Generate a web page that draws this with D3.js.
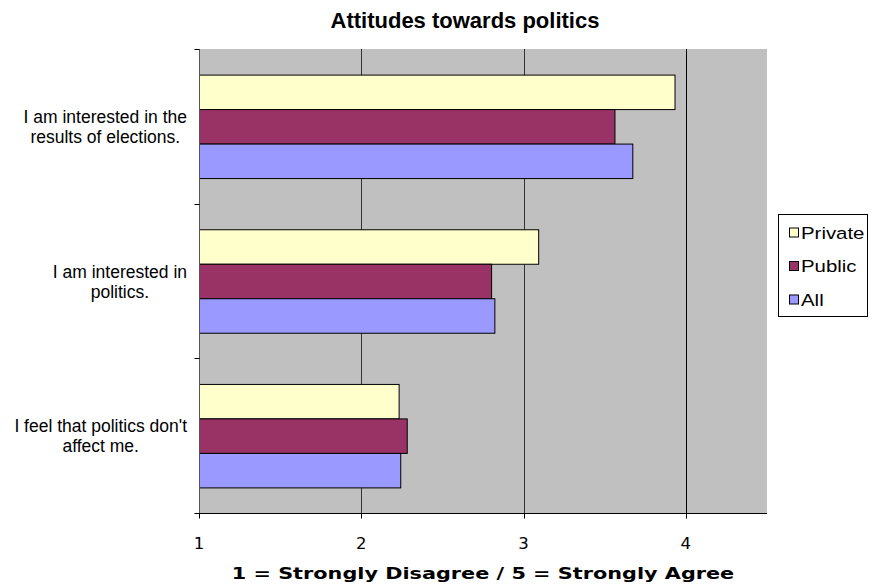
<!DOCTYPE html>
<html>
<head>
<meta charset="utf-8">
<script src="https://cdn.jsdelivr.net/npm/d3@7"></script>
<style>
  body { margin: 0; background: #fff; }
  svg { display: block; }
</style>
</head>
<body>
<svg id="chart" width="872" height="586"></svg>
<script>
// chart data
const categories = ["elections", "politics", "affect"];
const categoryLabels = [
    ["I am interested in the", "results of elections."],
    ["I am interested in", "politics."],
    ["I feel that politics don't", "affect me."]
];
const seriesNames = ["Private", "Public", "All"];
const privateValues = [3.93, 3.09, 2.23];
const publicValues = [3.56, 2.80, 2.28];
const allValues = [3.67, 2.82, 2.24];
const xTickValues = [1, 2, 3, 4];

const seriesColors = { Private: "#ffffcc", Public: "#993366", All: "#9999ff" };
const valuesBySeries = { Private: privateValues, Public: publicValues, All: allValues };

const labelFont = "'Liberation Sans', Arial, sans-serif";
const axisFont = "'DejaVu Sans', Verdana, sans-serif";

const svg = d3.select("#chart");
const margin = { top: 49, left: 199, right: 105, bottom: 73 };
const width = 872 - margin.left - margin.right;
const height = 586 - margin.top - margin.bottom;

const x = d3.scaleLinear().domain([1, 4.5]).range([0, width]);
const y = d3.scaleBand().domain(categories).range([0, height])
    .paddingInner(0.331).paddingOuter(0.1655);
const ySeries = d3.scaleBand().domain(seriesNames).range([0, y.bandwidth()]);

const plot = svg.append("g")
    .attr("transform", `translate(${margin.left},${margin.top})`);

plot.append("rect")
    .attr("width", width)
    .attr("height", height)
    .attr("fill", "#c0c0c0");

plot.selectAll(".grid")
    .data(xTickValues.filter(d => d > 1))
    .join("line")
    .attr("class", "grid")
    .attr("x1", d => Math.round(x(d)) + 0.5)
    .attr("x2", d => Math.round(x(d)) + 0.5)
    .attr("y1", 0)
    .attr("y2", height)
    .attr("stroke", (d, i) => i < 2 ? "#333" : "#000")
    .attr("stroke-width", 1);

const groups = plot.selectAll(".cat")
    .data(categories)
    .join("g")
    .attr("class", "cat")
    .attr("transform", d => `translate(0,${y(d)})`);

groups.selectAll("rect")
    .data((d, i) => seriesNames.map(s => ({ series: s, value: valuesBySeries[s][i] })))
    .join("rect")
    .attr("x", x(1) + 0.5)
    .attr("y", d => ySeries(d.series) + 0.5)
    .attr("width", d => x(d.value) - x(1))
    .attr("height", ySeries.bandwidth())
    .attr("fill", d => seriesColors[d.series])
    .attr("stroke", "#000")
    .attr("stroke-width", 1);

// bottom value axis
const xAxis = plot.append("g")
    .attr("transform", `translate(0,${height + 0.5})`);
xAxis.append("line")
    .attr("x1", 0).attr("x2", width)
    .attr("stroke", "#000");
xAxis.selectAll(".tick")
    .data(xTickValues)
    .join("line")
    .attr("class", "tick")
    .attr("x1", d => Math.round(x(d)) + 0.5)
    .attr("x2", d => Math.round(x(d)) + 0.5)
    .attr("y1", 0).attr("y2", 5)
    .attr("stroke", "#000");
xAxis.selectAll(".tickLabel")
    .data(xTickValues)
    .join("g")
    .attr("class", "tickLabel")
    .attr("transform", d => `translate(${x(d)},35) scale(1.1,1)`)
    .append("text")
    .attr("text-anchor", "middle")
    .style("font-family", axisFont)
    .style("font-size", "15px")
    .text(d => d);

// left category axis
const yAxis = plot.append("g").attr("transform", "translate(0.5,0)");
yAxis.append("line")
    .attr("y1", 0).attr("y2", height)
    .attr("stroke", "#555");
const boundaries = categories.map(c => y(c) - y.step() * y.paddingOuter()).concat([height]);
yAxis.selectAll(".tick")
    .data(boundaries)
    .join("line")
    .attr("class", "tick")
    .attr("x1", -5).attr("x2", 0)
    .attr("y1", d => Math.round(d) + 0.5)
    .attr("y2", d => Math.round(d) + 0.5)
    .attr("stroke", "#000");

// wrapped category labels, lines centred on each other
const lineHeight = 20;
categories.forEach((c, i) => {
    const lines = categoryLabels[i];
    const g = plot.append("g");
    const texts = lines.map((ln, k) => g.append("text")
        .attr("text-anchor", "middle")
        .attr("y", (k - (lines.length - 1) / 2) * lineHeight + 6.5)
        .style("font-family", labelFont)
        .style("font-size", "17.5px")
        .style("fill", "#000")
        .text(ln));
    const maxW = d3.max(texts, t => t.node().getComputedTextLength());
    g.attr("transform", `translate(${-12 - maxW / 2},${y(c) + y.bandwidth() / 2})`);
});

// title and axis title
svg.append("text")
    .attr("x", 465)
    .attr("y", 28)
    .attr("text-anchor", "middle")
    .style("font-family", labelFont)
    .style("font-weight", "bold")
    .style("font-size", "22px")
    .text("Attitudes towards politics");

svg.append("g")
    .attr("transform", `translate(${margin.left + width / 2},579) scale(1.3,1)`)
    .append("text")
    .attr("text-anchor", "middle")
    .style("font-family", axisFont)
    .style("font-weight", "bold")
    .style("font-size", "16px")
    .text("1 = Strongly Disagree / 5 = Strongly Agree");

// legend
const legend = svg.append("g").attr("transform", "translate(778.5,214.5)");
legend.append("rect")
    .attr("width", 89)
    .attr("height", 102)
    .attr("fill", "#fff")
    .attr("stroke", "#000");
const items = legend.selectAll(".item")
    .data(seriesNames)
    .join("g")
    .attr("class", "item")
    .attr("transform", (d, i) => `translate(11,${18 + i * 33.5})`);
items.append("rect")
    .attr("x", 0).attr("y", -4.5)
    .attr("width", 9).attr("height", 9)
    .attr("fill", d => seriesColors[d])
    .attr("stroke", "#000");
items.append("g")
    .attr("transform", "translate(11.5,6) scale(1.2,1)")
    .append("text")
    .style("font-family", labelFont)
    .style("font-size", "17px")
    .text(d => d);
</script>
</body>
</html>
